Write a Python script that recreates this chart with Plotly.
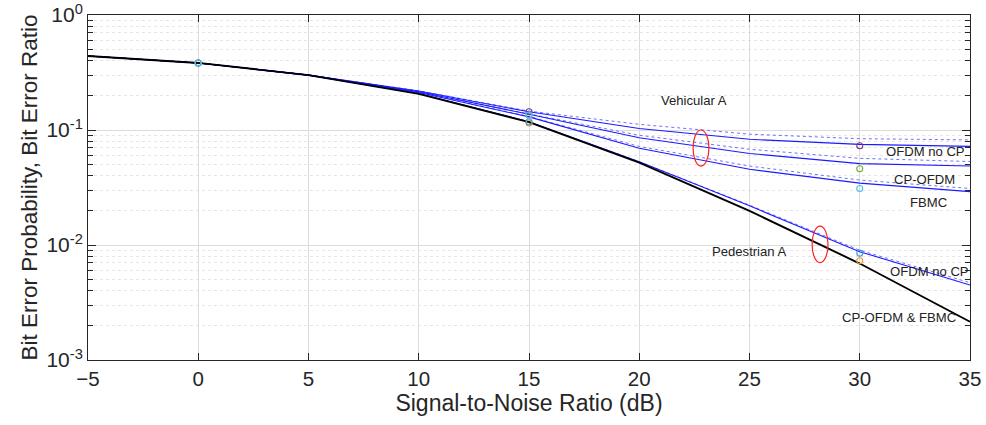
import plotly.graph_objects as go
import numpy as np

snr = [-5, 0, 5, 10, 15, 20, 25, 30, 35]

# Vehicular A, simulation (solid)
veh_ofdm_nocp = [0.44, 0.383, 0.30, 0.218, 0.144, 0.103, 0.083, 0.075, 0.072]
veh_cp_ofdm = [0.44, 0.383, 0.30, 0.215, 0.137, 0.0857, 0.0625, 0.0510, 0.0486]
veh_fbmc = [0.44, 0.383, 0.30, 0.212, 0.130, 0.0693, 0.0455, 0.0345, 0.0291]
# Vehicular A, theory (dotted)
veh_ofdm_nocp_th = [0.44, 0.383, 0.30, 0.219, 0.146, 0.112, 0.092, 0.084, 0.082]
veh_cp_ofdm_th = [0.44, 0.383, 0.30, 0.216, 0.138, 0.090, 0.068, 0.0567, 0.0532]
veh_fbmc_th = [0.44, 0.383, 0.30, 0.213, 0.131, 0.072, 0.0486, 0.0367, 0.031]
# Pedestrian A
ped_ofdm_nocp = [0.44, 0.383, 0.30, 0.208, 0.118, 0.053, 0.0219, 0.00875, 0.00449]
ped_ofdm_nocp_th = [0.44, 0.383, 0.30, 0.208, 0.118, 0.053, 0.0222, 0.0090, 0.0047]
ped_cp_fbmc = [0.44, 0.383, 0.30, 0.206, 0.117, 0.052, 0.0198, 0.0069, 0.00215]

# Markers (simulated points)
mk_snr = [0, 15, 30]
mk_veh_ofdm_nocp = [0.383, 0.144, 0.073]
mk_veh_cp_ofdm = [0.383, 0.135, 0.046]
mk_veh_fbmc = [0.383, 0.135, 0.031]
mk_ped_ofdm_nocp = [0.383, 0.118, 0.0085]
mk_ped_cp_fbmc = [0.383, 0.115, 0.0073]

BLUE = "#1a1aff"
fig = go.Figure()

def line(y, color=BLUE, dash="solid", width=1.1):
    fig.add_trace(go.Scatter(x=snr, y=y, mode="lines",
                             line=dict(color=color, dash=dash, width=width),
                             showlegend=False, hoverinfo="skip"))

for y in [veh_ofdm_nocp_th, veh_cp_ofdm_th, veh_fbmc_th, ped_ofdm_nocp_th]:
    line(y, color="#7070ff", dash="dot", width=1)
for y in [veh_ofdm_nocp, veh_cp_ofdm, veh_fbmc, ped_ofdm_nocp]:
    line(y)
line(ped_cp_fbmc, color="#000000", width=1.9)

def markers(y, color):
    fig.add_trace(go.Scatter(x=mk_snr, y=y, mode="markers",
                             marker=dict(symbol="circle-open", size=6, color=color,
                                         line=dict(width=1.1, color=color)),
                             showlegend=False, hoverinfo="skip"))

markers(mk_veh_ofdm_nocp, "#7E2F8E")
markers(mk_veh_cp_ofdm, "#77AC30")
markers(mk_ped_cp_fbmc, "#E8962A")
markers(mk_ped_ofdm_nocp, "#3d9bd6")
markers(mk_veh_fbmc, "#4DBEEE")

labels = [
    ("Vehicular A", 22.5, 0.18),
    ("OFDM no CP", 33.0, 0.0647),
    ("CP-OFDM", 32.95, 0.0373),
    ("FBMC", 33.13, 0.0232),
    ("Pedestrian A", 25.0, 0.00872),
    ("OFDM no CP", 33.15, 0.00586),
    ("CP-OFDM & FBMC", 31.8, 0.00232),
]
for txt, x, y in labels:
    fig.add_annotation(x=x, y=np.log10(y), text=txt, showarrow=False,
                       font=dict(size=13.1, color="#222222",
                                 family="Liberation Sans, Arial, sans-serif"))

# red ellipses: (centre snr, centre log10 BER, half-width dB, half-height decades)
ellipses = [(22.8, -1.157, 0.36, 0.157), (28.2, -1.994, 0.36, 0.159)]
for ex, ey, hw, hh in ellipses:
    fig.add_shape(type="circle", xref="x", yref="y",
                  x0=ex - hw, x1=ex + hw,
                  y0=10 ** (ey - hh), y1=10 ** (ey + hh),
                  line=dict(color="#ff2020", width=1.2))

ytickvals = [1, 0.1, 0.01, 0.001]
yticktext = ["10<sup>0</sup>", "10<sup>-1</sup>", "10<sup>-2</sup>", "10<sup>-3</sup>"]
minor_vals = [m * 10.0 ** d for d in (-3, -2, -1) for m in range(2, 10)]
xtickvals = [-5, 0, 5, 10, 15, 20, 25, 30, 35]

fig.update_layout(
    width=986, height=425,
    margin=dict(l=88, r=16, t=15, b=65),
    paper_bgcolor="white", plot_bgcolor="white",
    font=dict(family="Liberation Sans, Arial, sans-serif", color="#262626"),
    xaxis=dict(range=[-5, 35], tickvals=xtickvals, automargin=False,
               ticklabeloverflow="allow",
               ticks="inside", ticklen=7, tickcolor="#262626",
               showline=True, linecolor="#262626", linewidth=1, mirror="ticks",
               showgrid=True, gridcolor="#dcdcdc", gridwidth=1, zeroline=False,
               tickfont=dict(size=20.5, color="#262626"),
               title=dict(text="Signal-to-Noise Ratio (dB)", font=dict(size=23, color="#262626"),
                          standoff=4)),
    yaxis=dict(type="log", range=[-3, 0], tickvals=ytickvals, ticktext=yticktext,
               automargin=False, ticklabeloverflow="allow",
               ticks="inside", ticklen=8, tickcolor="#262626",
               showline=True, linecolor="#262626", linewidth=1, mirror="ticks",
               showgrid=True, gridcolor="#dcdcdc", gridwidth=1, zeroline=False,
               tickfont=dict(size=21, color="#262626"),
               minor=dict(tickvals=minor_vals, ticks="inside", ticklen=5,
                          tickcolor="#262626", showgrid=True,
                          gridcolor="#e6e6e6", griddash="dot", gridwidth=1),
               title=dict(text="Bit Error Probability, Bit Error Ratio",
                          font=dict(size=22.5, color="#262626"), standoff=2)),
)

fig.write_html("out.html", config={"displayModeBar": False},
               post_script="document.body.style.margin='0';document.body.style.overflow='hidden';")
